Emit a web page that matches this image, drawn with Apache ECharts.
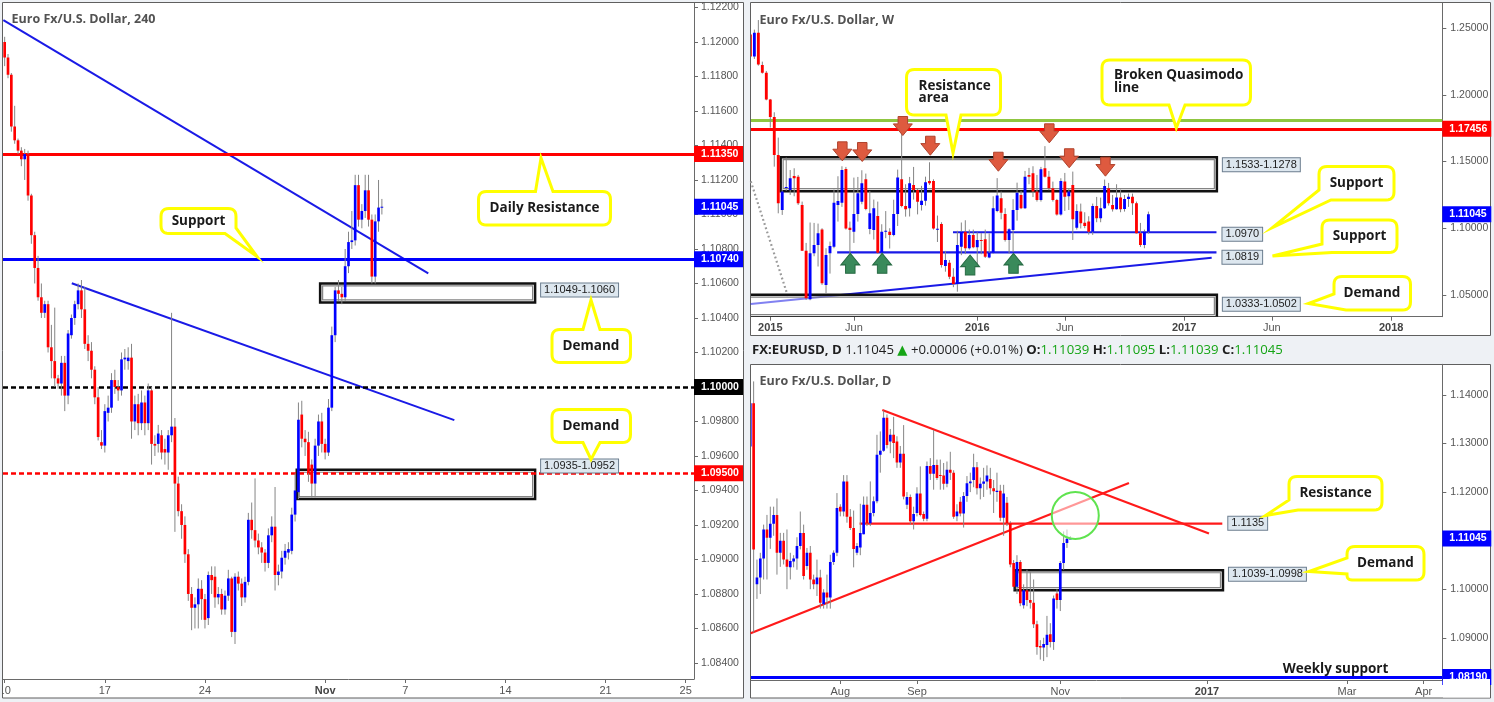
<!DOCTYPE html>
<html>
<head>
<meta charset="utf-8">
<script src="https://cdn.jsdelivr.net/npm/echarts@6/dist/echarts.min.js"></script>
<style>
  html, body { margin: 0; padding: 0; background: #eef1f5; }
  #chart { width: 1494px; height: 702px; }
</style>
</head>
<body>
<div id="chart"></div>
<script>
// ---------- 4-hour EUR/USD (bar 0 = 10 Oct 2016, 00:00) ----------
const h4BarTicks = [0, 30, 60, 96, 120, 150, 180, 204];
const h4BarTickText = ['10', '17', '24', 'Nov', '7', '14', '21', '25'];
const h4PriceTicks = [1.084, 1.086, 1.088, 1.090, 1.092, 1.094, 1.096, 1.098, 1.100, 1.102,
  1.104, 1.106, 1.108, 1.110, 1.112, 1.114, 1.116, 1.118, 1.120, 1.122];
// [open, close, low, high]
const h4Candles = [
  [1.1200,1.1191,1.1186,1.1203],[1.1191,1.1181,1.1179,1.1193],[1.1181,1.1151,1.1148,1.1182],[1.1151,1.1143,1.1141,1.1163],
  [1.1143,1.1137,1.1135,1.1144],[1.1137,1.1132,1.1128,1.1139],[1.1132,1.1135,1.1120,1.1138],[1.1135,1.1111,1.1108,1.1137],
  [1.1111,1.1088,1.1083,1.1112],[1.1088,1.1069,1.1060,1.1090],[1.1069,1.1052,1.1050,1.1076],[1.1052,1.1043,1.1040,1.1060],
  [1.1043,1.1048,1.1040,1.1050],[1.1048,1.1023,1.1020,1.1050],[1.1023,1.1015,1.1005,1.1036],[1.1015,1.1005,1.1000,1.1046],
  [1.1005,1.1002,1.0999,1.1007],[1.1002,1.1014,1.0995,1.1018],[1.1014,1.0995,1.0986,1.1018],[1.0995,1.1031,1.0990,1.1033],
  [1.1030,1.1040,1.1028,1.1042],[1.1040,1.1048,1.1036,1.1050],[1.1048,1.1056,1.1045,1.1060],[1.1056,1.1045,1.1040,1.1062],
  [1.1045,1.1025,1.1022,1.1058],[1.1025,1.1021,1.1015,1.1030],[1.1021,1.1010,1.1005,1.1026],[1.1010,1.0994,1.0990,1.1012],
  [1.0994,1.0971,1.0969,1.1000],[1.0968,1.0966,1.0964,1.0975],[1.0966,1.0986,1.0962,1.0990],[1.0985,1.0988,1.0980,1.0995],
  [1.0988,1.1004,1.0985,1.1008],[1.1004,1.1000,1.0996,1.1010],[1.1000,1.0998,1.0992,1.1004],[1.0998,1.1016,1.0995,1.1020],
  [1.1016,1.1017,1.1010,1.1022],[1.1015,1.1017,1.1010,1.1023],[1.1017,1.0980,1.0970,1.1025],[1.0980,1.0990,1.0975,1.0995],
  [1.0990,1.0979,1.0972,1.0996],[1.0979,1.0991,1.0975,1.0998],[1.0991,1.0979,1.0972,1.0995],[1.0979,1.0998,1.0975,1.1002],
  [1.0998,1.0967,1.0955,1.1000],[1.0967,1.0966,1.0960,1.0972],[1.0967,1.0973,1.0962,1.0978],[1.0972,1.0962,1.0958,1.0975],
  [1.0964,1.0962,1.0955,1.0970],[1.0962,1.0972,1.0952,1.0975],[1.0972,1.0977,1.0968,1.1043],[1.0977,1.0944,1.0916,1.0982],
  [1.0944,1.0928,1.0925,1.0948],[1.0928,1.0920,1.0912,1.0932],[1.0920,1.0903,1.0898,1.0925],[1.0903,1.0880,1.0876,1.0906],
  [1.0880,1.0872,1.0859,1.0884],[1.0872,1.0874,1.0860,1.0878],[1.0874,1.0883,1.0860,1.0889],[1.0883,1.0877,1.0865,1.0888],
  [1.0877,1.0865,1.0860,1.0880],[1.0866,1.0891,1.0862,1.0893],[1.0891,1.0888,1.0880,1.0896],[1.0890,1.0878,1.0872,1.0896],
  [1.0878,1.0880,1.0874,1.0884],[1.0880,1.0871,1.0868,1.0883],[1.0871,1.0879,1.0868,1.0882],[1.0879,1.0889,1.0876,1.0894],
  [1.0889,1.0858,1.0855,1.0890],[1.0858,1.0890,1.0851,1.0892],[1.0890,1.0886,1.0882,1.0893],[1.0886,1.0878,1.0873,1.0889],
  [1.0878,1.0887,1.0875,1.0890],[1.0887,1.0923,1.0885,1.0927],[1.0923,1.0917,1.0912,1.0933],[1.0917,1.0911,1.0907,1.0947],
  [1.0911,1.0907,1.0903,1.0915],[1.0907,1.0904,1.0898,1.0910],[1.0904,1.0898,1.0893,1.0906],[1.0898,1.0914,1.0895,1.0918],
  [1.0914,1.0919,1.0910,1.0925],[1.0919,1.0891,1.0882,1.0942],[1.0891,1.0893,1.0885,1.0897],[1.0893,1.0901,1.0889,1.0905],
  [1.0901,1.0905,1.0897,1.0909],[1.0904,1.0906,1.0900,1.0910],[1.0905,1.0926,1.0903,1.0930],[1.0926,1.0940,1.0922,1.0950],
  [1.0939,1.0981,1.0935,1.0991],[1.0984,1.0970,1.0965,1.0992],[1.0970,1.0968,1.0960,1.0975],[1.0968,1.0950,1.0945,1.0974],
  [1.0955,1.0944,1.0936,1.0958],[1.0944,1.0966,1.0936,1.0970],[1.0966,1.0980,1.0960,1.0984],[1.0980,1.0967,1.0962,1.0985],
  [1.0967,1.0962,1.0958,1.0970],[1.0962,1.0988,1.0960,1.0993],[1.0988,1.1030,1.0986,1.1035],[1.1030,1.1056,1.1026,1.1058],
  [1.1056,1.1054,1.1050,1.1062],[1.1054,1.1052,1.1048,1.1058],[1.1052,1.1070,1.1050,1.1080],[1.1070,1.1084,1.1066,1.1090],
  [1.1084,1.1085,1.1080,1.1102],[1.1085,1.1117,1.1082,1.1123],[1.1117,1.1097,1.1093,1.1123],[1.1097,1.1102,1.1092,1.1106],
  [1.1102,1.1114,1.1098,1.1123],[1.1114,1.1097,1.1093,1.1123],[1.1097,1.1064,1.1060,1.1100],[1.1064,1.1096,1.1060,1.1100],
  [1.1096,1.1104,1.1090,1.1120],[1.1104,1.11045,1.1100,1.1109]
];
const h4DailyResistance = 1.1135;
const h4Support = 1.1074;
const h4RoundNumber = 1.1000;
const h4HalfNumber = 1.0950;
// demand zones: [fromBar, toBar, first, second]
const h4Zones = [[94.5, 158.9, 1.1049, 1.1060], [87.5, 158.9, 1.0935, 1.0952]];
const h4ZoneLabelAt = [1.1060, 1.0958];
const h4TrendUpper = [[-0.4, 1.12127], [126.9, 1.10659]];
const h4TrendLower = [[20.1, 1.10601], [134.7, 1.09808]];

// ---------- Weekly EUR/USD (week 0 = 5 Jan 2015) ----------
const weekFirst = -5;
const weekTicks = [0, 21, 52, 74, 104, 126, 156];
const weekTickText = ['2015', 'Jun', '2016', 'Jun', '2017', 'Jun', '2018'];
const weekPriceTicks = [1.05, 1.10, 1.15, 1.20, 1.25];
const weekCandles = [
  [1.2453,1.2288,1.2247,1.2460],[1.2288,1.2467,1.2270,1.2490],[1.2467,1.2228,1.2220,1.2562],[1.2225,1.2167,1.2160,1.2250],
  [1.2167,1.1965,1.1960,1.2180],[1.1965,1.1835,1.1755,1.1970],[1.1835,1.1550,1.1462,1.1870],[1.1550,1.1187,1.1112,1.1680],
  [1.1137,1.1275,1.1100,1.1290],[1.1302,1.1310,1.1280,1.1530],[1.1287,1.1375,1.1250,1.1437],[1.1392,1.1375,1.1240,1.1450],
  [1.1387,1.1187,1.1175,1.1400],[1.1175,1.0832,1.0830,1.1200],[1.0832,1.0474,1.0462,1.0890],[1.0467,1.0812,1.0460,1.1043],
  [1.0812,1.0874,1.0790,1.1040],[1.0874,1.0962,1.0713,1.1035],[1.0990,1.0587,1.0575,1.1000],[1.0574,1.0800,1.0512,1.0850],
  [1.0812,1.0867,1.0660,1.0900],[1.0862,1.1192,1.0850,1.1290],[1.1175,1.1205,1.1050,1.1390],[1.1192,1.1437,1.1160,1.1465],
  [1.1445,1.0999,1.0990,1.1460],[1.1004,1.0987,1.0812,1.1050],[1.0974,1.1107,1.0890,1.1380],[1.1107,1.1262,1.1050,1.1385],
  [1.1199,1.1337,1.1180,1.1435],[1.1367,1.1144,1.1135,1.1410],[1.0994,1.1112,1.0955,1.1280],[1.0987,1.1150,1.0915,1.1215],
  [1.1092,1.0817,1.0808,1.1200],[1.0817,1.0974,1.0808,1.1030],[1.0979,1.0982,1.0925,1.1129],[1.0974,1.0949,1.0848,1.1000],
  [1.0949,1.1107,1.0940,1.1214],[1.1107,1.1380,1.1017,1.1440],[1.1367,1.1167,1.1157,1.1714],[1.1167,1.1142,1.1087,1.1330],
  [1.1150,1.1337,1.1088,1.1385],[1.1325,1.1287,1.1215,1.1460],[1.1287,1.1199,1.1104,1.1296],[1.1175,1.1207,1.1133,1.1318],
  [1.1207,1.1345,1.1170,1.1387],[1.1355,1.1337,1.1325,1.1495],[1.1355,1.0999,1.0990,1.1367],[1.0992,1.0996,1.0897,1.1095],
  [1.1032,1.0724,1.0705,1.1045],[1.0717,1.0762,1.0674,1.0830],[1.0742,1.0637,1.0618,1.0762],[1.0637,1.0582,1.0558,1.0700],
  [1.0582,1.0874,1.0524,1.0981],[1.0862,1.0974,1.0798,1.1043],[1.0974,1.0849,1.0806,1.1060],[1.0849,1.0949,1.0840,1.0990],
  [1.0949,1.0857,1.0850,1.0990],[1.0857,1.0912,1.0710,1.0970],[1.0912,1.0904,1.0805,1.0965],[1.0917,1.0787,1.0777,1.0990],
  [1.0780,1.0817,1.0775,1.0962],[1.0817,1.1150,1.0808,1.1240],[1.1130,1.1245,1.1120,1.1376],[1.1225,1.1117,1.1067,1.1275],
  [1.1107,1.0912,1.0900,1.1150],[1.0912,1.0992,1.0810,1.1000],[1.0987,1.1137,1.0822,1.1218],[1.1137,1.1267,1.1057,1.1342],
  [1.1250,1.1150,1.1143,1.1280],[1.1150,1.1387,1.1144,1.1430],[1.1400,1.1387,1.1330,1.1453],[1.1412,1.1275,1.1234,1.1465],
  [1.1275,1.1212,1.1200,1.1400],[1.1212,1.1442,1.1200,1.1460],[1.1450,1.1387,1.1380,1.1616],[1.1387,1.1300,1.1285,1.1430],
  [1.1300,1.1212,1.1200,1.1350],[1.1212,1.1104,1.1095,1.1220],[1.1104,1.1355,1.1095,1.1375],[1.1350,1.1237,1.1130,1.1415],
  [1.1240,1.1275,1.1137,1.1300],[1.1325,1.1067,1.0912,1.1425],[1.1004,1.1130,1.0990,1.1180],[1.1125,1.1037,1.0998,1.1185],
  [1.1042,1.1017,1.1000,1.1120],[1.1050,1.0974,1.0952,1.1090],[1.0974,1.1167,1.0950,1.1185],[1.1167,1.1075,1.1045,1.1235],
  [1.1075,1.1150,1.1045,1.1230],[1.1150,1.1317,1.1145,1.1365],[1.1300,1.1187,1.1170,1.1340],[1.1175,1.1142,1.1125,1.1250],
  [1.1142,1.1230,1.1140,1.1330],[1.1230,1.1142,1.1120,1.1290],[1.1144,1.1220,1.1125,1.1250],[1.1220,1.1237,1.1160,1.1260],
  [1.1237,1.1187,1.1100,1.1260],[1.1187,1.0962,1.0960,1.1200],[1.0962,1.0874,1.0860,1.1040],[1.0874,1.0974,1.0850,1.0990],
  [1.0974,1.11045,1.0960,1.1125]
];
const weekQuasimodo = 1.1812;
const weekResistance = 1.17456;
const weekZones = [[2.6, 112.2, 1.1533, 1.1278], [-6, 112.2, 1.0333, 1.0502]];
const weekZoneLabelAt = [1.1525, 1.0479];
const weekSupports = [[45.9, 112.1, 1.0970], [16.8, 112.1, 1.0819]];
const weekSupportLabelAt = [1.1004, 1.0832];
const weekTrend = [[-4.9, 1.04317], [110.9, 1.07791]];
const weekDotted = [[-4.9, 1.1352], [4.45, 1.0487]];
const weekSellArrows = [[18.1, 1.1577], [23.1, 1.1572], [33.3, 1.1767], [40.2, 1.1619],
  [57.3, 1.1499], [70.1, 1.1712], [75.1, 1.1525], [84.2, 1.1462]];
const weekBuyArrows = [[20.1, 1.0737], [28.1, 1.0737], [50.2, 1.0724], [61.1, 1.0737]];

// ---------- Daily EUR/USD (day 0 = 1 Aug 2016) ----------
const dayFirst = -27;
const dayTicks = [0, 23, 66, 110, 152, 175];
const dayTickText = ['Aug', 'Sep', 'Nov', '2017', 'Mar', 'Apr'];
const dayPriceTicks = [1.09, 1.10, 1.11, 1.12, 1.13, 1.14];
const dayCandles = [
  [1.1294,1.1383,1.1280,1.1431],[1.1383,1.1082,1.0911,1.1428],[1.1010,1.1024,1.0980,1.1061],[1.1024,1.1063,1.0990,1.1075],
  [1.1063,1.1123,1.1020,1.1133],[1.1123,1.1106,1.1020,1.1153],[1.1106,1.1135,1.1083,1.1170],[1.1135,1.1153,1.1110,1.1170],
  [1.1153,1.1075,1.1030,1.1187],[1.1075,1.1100,1.1046,1.1116],[1.1100,1.1061,1.1051,1.1116],[1.1061,1.1046,1.1000,1.1123],
  [1.1045,1.1058,1.1020,1.1075],[1.1057,1.1063,1.1045,1.1070],[1.1063,1.1089,1.1040,1.1107],[1.1089,1.1116,1.1082,1.1160],
  [1.1116,1.1027,1.1020,1.1133],[1.1048,1.1075,1.1040,1.1085],[1.1075,1.1020,1.1000,1.1089],[1.1020,1.1010,1.1000,1.1030],
  [1.1010,1.1024,1.0986,1.1061],[1.1024,1.0972,1.0960,1.1040],[1.0969,1.0993,1.0960,1.1000],[1.0993,1.0983,1.0960,1.1030],
  [1.0983,1.1056,1.0960,1.1071],[1.1056,1.1075,1.1050,1.1080],[1.1075,1.1167,1.1068,1.1198],
  [1.1170,1.1160,1.1150,1.1175],[1.1160,1.1222,1.1150,1.1235],[1.1222,1.1149,1.1137,1.1235],[1.1149,1.1126,1.1122,1.1165],
  [1.1126,1.1083,1.1045,1.1162],[1.1075,1.1089,1.1070,1.1095],[1.1086,1.1116,1.1070,1.1176],[1.1113,1.1174,1.1113,1.1191],
  [1.1174,1.1136,1.1130,1.1191],[1.1136,1.1157,1.1130,1.1222],[1.1157,1.1181,1.1150,1.1191],[1.1181,1.1277,1.1177,1.1318],
  [1.1277,1.1285,1.1240,1.1325],[1.1285,1.1353,1.1283,1.1368],[1.1353,1.1297,1.1290,1.1360],[1.1304,1.1318,1.1280,1.1330],
  [1.1318,1.1301,1.1270,1.1355],[1.1304,1.1261,1.1250,1.1315],[1.1261,1.1279,1.1250,1.1295],[1.1279,1.1191,1.1185,1.1338],
  [1.1174,1.1190,1.1165,1.1200],[1.1190,1.1140,1.1133,1.1195],[1.1140,1.1155,1.1123,1.1170],[1.1157,1.1197,1.1150,1.1210],
  [1.1197,1.1153,1.1150,1.1253],[1.1155,1.1145,1.1140,1.1160],[1.1145,1.1254,1.1140,1.1263],[1.1254,1.1238,1.1225,1.1270],
  [1.1238,1.1256,1.1205,1.1328],[1.1256,1.1229,1.1225,1.1267],[1.1235,1.1233,1.1205,1.1267],[1.1234,1.1217,1.1205,1.1260],
  [1.1217,1.1246,1.1210,1.1263],[1.1246,1.1240,1.1225,1.1283],[1.1240,1.1149,1.1145,1.1245],[1.1150,1.1160,1.1140,1.1175],
  [1.1180,1.1156,1.1150,1.1190],[1.1156,1.1192,1.1127,1.1200],[1.1192,1.1218,1.1180,1.1233],[1.1218,1.1222,1.1200,1.1240],
  [1.1225,1.1251,1.1210,1.1279],[1.1251,1.1208,1.1195,1.1262],[1.1208,1.1217,1.1185,1.1230],[1.1217,1.1222,1.1190,1.1250],
  [1.1222,1.1234,1.1205,1.1255],[1.1227,1.1208,1.1195,1.1250],[1.1208,1.1202,1.1157,1.1225],[1.1200,1.1203,1.1180,1.1240],
  [1.1203,1.1147,1.1140,1.1215],[1.1147,1.1197,1.1110,1.1215],[1.1178,1.1136,1.1130,1.1190],[1.1136,1.1051,1.1045,1.1140],
  [1.1054,1.1005,1.0998,1.1060],[1.1005,1.1056,1.0990,1.1070],[1.1056,1.0971,1.0965,1.1060],[1.0967,1.0998,1.0960,1.1010],
  [1.0998,1.0978,1.0965,1.1040],[1.0978,1.0972,1.0960,1.1037],[1.0972,1.0928,1.0920,1.1020],[1.0928,1.0881,1.0865,1.0935],
  [1.0883,1.0880,1.0855,1.0895],[1.0880,1.0887,1.0852,1.0900],[1.0885,1.0906,1.0860,1.0945],[1.0907,1.0891,1.0880,1.0930],
  [1.0891,1.0981,1.0875,1.0987],[1.0991,1.0978,1.0960,1.1000],[1.0978,1.1054,1.0955,1.1058],[1.1054,1.1095,1.1040,1.1119],
  [1.1095,1.11039,1.1085,1.1123],[1.11039,1.11045,1.11039,1.11095]
];
const dayResistance = [[5.8, 114.6, 1.1135]];
const dayResistanceLabelAt = [1.1149];
const dayTrendDown = [[12.6, 1.13692], [110.6, 1.11146]];
const dayTrendUp = [[-26.9, 1.09092], [86.6, 1.12187]];
const dayZones = [[52.3, 114.8, 1.1039, 1.0998]];
const dayZoneLabelAt = [1.1044];
const dayWeeklySupport = 1.0819;
const dayFocus = [[70.5, 1.1152]];

// ---------- drawing helpers ----------
const AXIS_FONT = '"Liberation Sans", Arial, sans-serif';
const UI_FONT = '"Open Sans", "DejaVu Sans", sans-serif';
const UP = '#0000ff', DOWN = '#ff0000';

function toRows(candles, first) { return candles.map((c, k) => [first + k, c[0], c[1], c[2], c[3]]); }

function candleRenderer(ratio) {
  return function (params, api) {
    const x = api.value(0), o = api.value(1), c = api.value(2), l = api.value(3), h = api.value(4);
    const pH = api.coord([x, h]), pL = api.coord([x, l]), pO = api.coord([x, o]), pC = api.coord([x, c]);
    const bw = api.size([1, 0])[0] * ratio;
    const top = Math.min(pO[1], pC[1]);
    const ht = Math.max(1, Math.abs(pO[1] - pC[1]));
    return { type: 'group', children: [
      { type: 'line', shape: { x1: pH[0], y1: pH[1], x2: pL[0], y2: pL[1] }, style: { stroke: '#858585', lineWidth: 1 } },
      { type: 'rect', shape: { x: pO[0] - bw / 2, y: top, width: bw, height: ht }, style: { fill: c >= o ? UP : DOWN } }
    ] };
  };
}

function zoneRenderer(params, api) {
  const x1 = api.value(0), x2 = api.value(1), a = api.value(2), b = api.value(3);
  const p1 = api.coord([x1, Math.max(a, b)]), p2 = api.coord([x2, Math.min(a, b)]);
  const w = p2[0] - p1[0], h = p2[1] - p1[1];
  return { type: 'group', children: [
    { type: 'rect', shape: { x: p1[0], y: p1[1], width: w, height: h }, style: { fill: 'rgba(255,255,255,0.45)', stroke: '#111', lineWidth: 2.5 } },
    { type: 'rect', shape: { x: p1[0] + 2.5, y: p1[1] + 2.5, width: w - 5, height: h - 5 }, style: { fill: 'none', stroke: 'rgba(110,110,110,0.85)', lineWidth: 1.2 } }
  ] };
}

function tagRenderer(texts) {
  return function (params, api) {
    const p = api.coord([api.value(0), api.value(1)]);
    return { type: 'text', x: p[0] + 6, y: p[1], style: {
      text: texts[params.dataIndex], fill: '#1c1c1c', fontFamily: AXIS_FONT, fontSize: 11,
      align: 'left', verticalAlign: 'top', backgroundColor: '#dde7ef', borderColor: '#6c7e8f', borderWidth: 1, padding: [1, 3, 1, 3]
    } };
  };
}

function priceTag(text, bg) {
  return { show: true, position: 'end', distance: 0, formatter: text, color: '#fff', backgroundColor: bg,
    fontFamily: AXIS_FONT, fontWeight: 'bold', fontSize: 10.5, lineHeight: 12, padding: [2, 4, 2, 7], width: 38 };
}
function level(value, color, width, type) {
  return { yAxis: value, lineStyle: { color, width, type }, label: priceTag(value.toFixed(5), color) };
}
function tagOnly(value, color) {
  return { yAxis: value, lineStyle: { color: 'rgba(0,0,0,0)', width: 1, type: 'solid' }, label: priceTag(value.toFixed(5), color) };
}
function markLines(data) {
  return { symbol: ['none', 'none'], silent: true, animation: false, precision: 6, data };
}

function xAxis(gridIndex, min, max, ticks, texts, bold) {
  return {
    type: 'value', gridIndex, min, max, splitLine: { show: false },
    axisLine: { show: true, onZero: false, lineStyle: { color: '#6a6a6a', width: 1 } },
    axisTick: { show: true, customValues: ticks, length: 4, lineStyle: { color: '#6a6a6a' } },
    axisLabel: {
      show: true, customValues: ticks, margin: 6, color: '#555', fontSize: 11, fontFamily: AXIS_FONT,
      formatter: v => {
        const k = ticks.findIndex(t => Math.abs(t - v) < 1e-6);
        const s = k >= 0 ? texts[k] : '';
        return bold.includes(s) ? '{b|' + s + '}' : s;
      },
      rich: { b: { fontWeight: 'bold', color: '#444', fontSize: 11, fontFamily: AXIS_FONT } }
    }
  };
}
function yAxis(gridIndex, min, max, ticks, margin) {
  return {
    type: 'value', gridIndex, min, max, position: 'right', splitLine: { show: false },
    axisLine: { show: true, onZero: false, lineStyle: { color: '#6a6a6a', width: 1 } },
    axisTick: { show: true, customValues: ticks, length: 4, lineStyle: { color: '#6a6a6a' } },
    axisLabel: { show: true, customValues: ticks, margin, color: '#555', fontSize: 10.5, fontFamily: AXIS_FONT,
      formatter: v => v.toFixed(5) }
  };
}

function segment(data, xi, color, width, type, z) {
  return { type: 'line', xAxisIndex: xi, yAxisIndex: xi, data, symbol: 'none', silent: true, animation: false,
    lineStyle: { color, width, type: type || 'solid' }, z: z || 2 };
}

// ---------- callout boxes ----------
function roundPoly(pts) {
  const out = [], n = pts.length;
  for (let i = 0; i < n; i++) {
    const [x, y, r] = pts[i];
    if (!r) { out.push([x, y]); continue; }
    const [px, py] = pts[(i + n - 1) % n], [nx, ny] = pts[(i + 1) % n];
    const d1 = Math.hypot(px - x, py - y), d2 = Math.hypot(nx - x, ny - y);
    const ax = x + (px - x) / d1 * r, ay = y + (py - y) / d1 * r;
    const bx = x + (nx - x) / d2 * r, by = y + (ny - y) / d2 * r;
    for (let k = 0; k <= 6; k++) {
      const t = k / 6, u = 1 - t;
      out.push([u * u * ax + 2 * u * t * x + t * t * bx, u * u * ay + 2 * u * t * y + t * t * by]);
    }
  }
  return out;
}
const R = 8;
const callouts = [
  { pts: [[161,208.5,R],[236,208.5,R],[236,228,0],[257,256.5,0],[225,233.5,0],[161,233.5,R]], text: 'Support', x: 198.5, y: 221, align: 'center' },
  { pts: [[478.5,191.5,R],[535.5,191.5,0],[541,158,0],[553,191.5,0],[610.5,191.5,R],[610.5,225,R],[478.5,225,R]], text: 'Daily Resistance', x: 544.5, y: 208.5, align: 'center' },
  { pts: [[552,329.5,R],[583,329.5,0],[591,300,0],[600,329.5,0],[630.5,329.5,R],[630.5,362.5,R],[552,362.5,R]], text: 'Demand', x: 591, y: 346, align: 'center' },
  { pts: [[552,409.5,R],[630.5,409.5,R],[630.5,442.5,R],[600,442.5,0],[591,459.5,0],[583,442.5,0],[552,442.5,R]], text: 'Demand', x: 591, y: 426, align: 'center' },
  { pts: [[906.5,69.5,R],[1000.5,69.5,R],[1000.5,115,R],[961,115,0],[953,153,0],[946,115,0],[906.5,115,R]], text: 'Resistance\narea', x: 918.5, y: 92, align: 'left' },
  { pts: [[1102,60,R],[1250.5,60,R],[1250.5,105,R],[1185,105,0],[1176.3,128,0],[1169,105,0],[1102,105,R]], text: 'Broken Quasimodo\nline', x: 1114, y: 81.5, align: 'left' },
  { pts: [[1319,166.5,R],[1394,166.5,R],[1394,200,R],[1331,200,0],[1272.5,227.5,0],[1319,190,0]], text: 'Support', x: 1356.5, y: 183, align: 'center' },
  { pts: [[1322,220,R],[1397,220,R],[1397,252.5,R],[1332,252.5,0],[1272.5,256,0],[1322,244,0]], text: 'Support', x: 1359.5, y: 236, align: 'center' },
  { pts: [[1334,276.5,R],[1410.5,276.5,R],[1410.5,310,R],[1346,310,0],[1308.5,303.5,0],[1334,294,0]], text: 'Demand', x: 1372, y: 293, align: 'center' },
  { pts: [[1289,476.5,R],[1382,476.5,R],[1382,510,R],[1298,510,0],[1265.5,515.5,0],[1289,500,0]], text: 'Resistance', x: 1335.5, y: 493, align: 'center' },
  { pts: [[1347,546.5,R],[1424,546.5,R],[1424,580,R],[1347,580,5],[1347,574,0],[1309,571.5,0],[1347,558,0]], text: 'Demand', x: 1385.5, y: 563, align: 'center' }
];

const graphics = [
  { type: 'rect', z: -10, silent: true, shape: { x: 2.5, y: 2.5, width: 741, height: 695.5 }, style: { fill: '#fff', stroke: '#5f5f5f', lineWidth: 1 } },
  { type: 'rect', z: -10, silent: true, shape: { x: 750.5, y: 2.5, width: 740, height: 333 }, style: { fill: '#fff', stroke: '#5f5f5f', lineWidth: 1 } },
  { type: 'rect', z: -10, silent: true, shape: { x: 750.5, y: 364.5, width: 740, height: 333.5 }, style: { fill: '#fff', stroke: '#5f5f5f', lineWidth: 1 } },
  // the price scale of the daily pane ends at the time axis, so the tag below it is cut off there
  { type: 'rect', zlevel: 1, z: 60, silent: true, shape: { x: 1443, y: 679, width: 47, height: 18.5 }, style: { fill: '#fff' } },
  // the time labels are cut off at the left edge of the 4H pane
  { type: 'rect', zlevel: 1, z: 60, silent: true, shape: { x: 0, y: 681, width: 2, height: 18 }, style: { fill: '#eef1f5' } }
];
[['Euro Fx/U.S. Dollar, 240', 11.5, 19], ['Euro Fx/U.S. Dollar, W', 759.5, 20], ['Euro Fx/U.S. Dollar, D', 759.5, 381.5]].forEach(t => {
  graphics.push({ type: 'text', z: 50, silent: true, x: t[1], y: t[2], style: {
    text: t[0], fill: '#525252', fontFamily: UI_FONT, fontWeight: 'bold', fontSize: 12.5, align: 'left', verticalAlign: 'middle' } });
});
callouts.forEach(c => {
  graphics.push({ type: 'polygon', z: 50, silent: true, shape: { points: roundPoly(c.pts) },
    style: { fill: '#fff', stroke: '#ffff00', lineWidth: 3 } });
  graphics.push({ type: 'text', z: 51, silent: true, x: c.x, y: c.y, style: {
    text: c.text, fill: '#1a1a1a', fontFamily: UI_FONT, fontWeight: 'bold', fontSize: 13.5, lineHeight: 12.5,
    align: c.align, verticalAlign: 'middle' } });
});
graphics.push({ type: 'text', z: 51, silent: true, x: 1335.5, y: 669, style: {
  text: 'Weekly support', fill: '#1a1a1a', fontFamily: UI_FONT, fontWeight: 'bold', fontSize: 13.5, align: 'center', verticalAlign: 'middle' } });

// symbol line above the daily pane: last bar and change from the previous close
const lastBar = dayCandles[dayCandles.length - 1];
const prevClose = dayCandles[dayCandles.length - 2][1];
const chg = lastBar[1] - prevClose;
const chgPct = chg / prevClose * 100;
const HS = 13.2;
graphics.push({ type: 'text', z: 51, silent: true, x: 752, y: 350, style: {
  text: '{b|FX:EURUSD, D} {n|' + lastBar[1].toFixed(5) + '} {g|▲} {n|+' + chg.toFixed(5) + ' (+' + chgPct.toFixed(2) + '%)} ' +
        '{b|O:}{g|' + lastBar[0].toFixed(5) + '} {b|H:}{g|' + lastBar[3].toFixed(5) + '} {b|L:}{g|' + lastBar[2].toFixed(5) + '} {b|C:}{g|' + lastBar[1].toFixed(5) + '}',
  verticalAlign: 'middle', align: 'left', fontFamily: UI_FONT, fontSize: HS,
  rich: {
    b: { fontFamily: UI_FONT, fontSize: HS, fontWeight: 'bold', fill: '#1e1e1e', color: '#1e1e1e' },
    n: { fontFamily: UI_FONT, fontSize: HS, fill: '#1e1e1e', color: '#1e1e1e' },
    g: { fontFamily: UI_FONT, fontSize: HS, fill: '#16a516', color: '#16a516' }
  } } });

const lastPrice = h4Candles[h4Candles.length - 1][1];

const ARROW_DOWN = 'path://M5,0L15,0L15,7L20,7L10,18L0,7L5,7Z';
const ARROW_UP = 'path://M10,0L20,11L15,11L15,19L5,19L5,11L0,11Z';

const option = {
  animation: false,
  backgroundColor: '#eef1f5',
  textStyle: { fontFamily: AXIS_FONT },
  graphic: { elements: graphics },
  grid: [
    { left: 3, top: 3, width: 691, height: 676, outerBoundsMode: 'none', containLabel: false },
    { left: 751, top: 3, width: 691.3, height: 313.7, outerBoundsMode: 'none', containLabel: false },
    { left: 751, top: 364.3, width: 691.3, height: 315.7, outerBoundsMode: 'none', containLabel: false }
  ],
  xAxis: [
    xAxis(0, -0.5, 206.5, h4BarTicks, h4BarTickText, ['Nov']),
    xAxis(1, -4.849, 168.84, weekTicks, weekTickText, ['2015', '2016', '2017', '2018']),
    xAxis(2, -26.79, 180.6, dayTicks, dayTickText, ['2017'])
  ],
  yAxis: [
    yAxis(0, 1.08307, 1.12226, h4PriceTicks, 7),
    yAxis(1, 1.03364, 1.26898, weekPriceTicks, 8),
    yAxis(2, 1.081298, 1.146323, dayPriceTicks, 8)
  ],
  series: [
    // ---- 4H pane ----
    Object.assign(segment(h4TrendUpper, 0, '#1a1ae6', 2), {
      markLine: markLines([
        level(h4DailyResistance, '#ff0000', 3, 'solid'),
        level(h4Support, '#0000ff', 3, 'solid'),
        level(h4RoundNumber, '#000000', 2.5, [5, 3]),
        level(h4HalfNumber, '#ff0000', 2.5, [5, 3]),
        tagOnly(lastPrice, '#0000ff')
      ])
    }),
    segment(h4TrendLower, 0, '#1a1ae6', 2),
    { type: 'custom', xAxisIndex: 0, yAxisIndex: 0, data: h4Zones, renderItem: zoneRenderer, clip: true, silent: true, z: 3, animation: false },
    { type: 'custom', xAxisIndex: 0, yAxisIndex: 0, data: toRows(h4Candles, 0), encode: { x: 0, y: [1, 2, 3, 4] },
      renderItem: candleRenderer(0.8), clip: true, silent: true, z: 5, animation: false },
    { type: 'custom', xAxisIndex: 0, yAxisIndex: 0, data: h4Zones.map((zn, k) => [zn[1], h4ZoneLabelAt[k]]),
      renderItem: tagRenderer(h4Zones.map(zn => zn[2].toFixed(4) + '-' + zn[3].toFixed(4))), silent: true, z: 7, animation: false },

    // ---- weekly pane ----
    Object.assign(segment([], 1, '#000', 1), {
      markLine: markLines([
        { yAxis: weekQuasimodo, lineStyle: { color: '#8fc640', width: 3, type: 'solid' }, label: { show: false } },
        level(weekResistance, '#ff0000', 3, 'solid'),
        tagOnly(weekCandles[weekCandles.length - 1][1], '#0000ff')
      ])
    }),
    segment(weekTrend, 1, '#1a1ae6', 2),
    segment(weekDotted, 1, '#9a9a9a', 2.2, [1.8, 2.6]),
    ...weekSupports.map(s => segment([[s[0], s[2]], [s[1], s[2]]], 1, '#1a1ae6', 2.2)),
    { type: 'custom', xAxisIndex: 1, yAxisIndex: 1, data: weekZones, renderItem: zoneRenderer, clip: true, silent: true, z: 3, animation: false },
    { type: 'custom', xAxisIndex: 1, yAxisIndex: 1, data: toRows(weekCandles, weekFirst), encode: { x: 0, y: [1, 2, 3, 4] },
      renderItem: candleRenderer(0.72), clip: true, silent: true, z: 5, animation: false },
    { type: 'scatter', xAxisIndex: 1, yAxisIndex: 1, data: weekSellArrows, symbol: ARROW_DOWN, symbolSize: [19, 19], silent: true, z: 6, animation: false,
      itemStyle: { color: '#de5a3f', borderColor: '#b0432d', borderWidth: 1, opacity: 1 } },
    { type: 'scatter', xAxisIndex: 1, yAxisIndex: 1, data: weekBuyArrows, symbol: ARROW_UP, symbolSize: [19, 20], silent: true, z: 6, animation: false,
      itemStyle: { color: '#3a8a5b', borderColor: '#276a43', borderWidth: 1, opacity: 1 } },
    { type: 'custom', xAxisIndex: 1, yAxisIndex: 1,
      data: weekZones.map((zn, k) => [zn[1], weekZoneLabelAt[k]]).concat(weekSupports.map((s, k) => [s[1], weekSupportLabelAt[k]])),
      renderItem: tagRenderer(weekZones.map(zn => zn[2].toFixed(4) + '-' + zn[3].toFixed(4)).concat(weekSupports.map(s => s[2].toFixed(4)))),
      silent: true, z: 7, animation: false },

    // ---- daily pane ----
    Object.assign(segment(dayTrendDown, 2, '#ff1a1a', 2.2), {
      markLine: markLines([
        level(dayWeeklySupport, '#0000ff', 3, 'solid'),
        tagOnly(lastBar[1], '#0000ff')
      ])
    }),
    segment(dayTrendUp, 2, '#ff1a1a', 2.2),
    ...dayResistance.map(s => segment([[s[0], s[2]], [s[1], s[2]]], 2, '#ff1a1a', 2.2)),
    { type: 'custom', xAxisIndex: 2, yAxisIndex: 2, data: dayZones, renderItem: zoneRenderer, clip: true, silent: true, z: 3, animation: false },
    { type: 'custom', xAxisIndex: 2, yAxisIndex: 2, data: toRows(dayCandles, dayFirst), encode: { x: 0, y: [1, 2, 3, 4] },
      renderItem: candleRenderer(0.8), clip: true, silent: true, z: 5, animation: false },
    { type: 'scatter', xAxisIndex: 2, yAxisIndex: 2, data: dayFocus, symbol: 'circle', symbolSize: 47, silent: true, z: 6, animation: false,
      itemStyle: { color: 'rgba(255,255,255,0.55)', borderColor: '#5fe34f', borderWidth: 2, opacity: 1 } },
    { type: 'custom', xAxisIndex: 2, yAxisIndex: 2,
      data: dayResistance.map((s, k) => [s[1], dayResistanceLabelAt[k]]).concat(dayZones.map((zn, k) => [zn[1], dayZoneLabelAt[k]])),
      renderItem: tagRenderer(dayResistance.map(s => s[2].toFixed(4)).concat(dayZones.map(zn => zn[2].toFixed(4) + '-' + zn[3].toFixed(4)))),
      silent: true, z: 7, animation: false }
  ]
};

const chart = echarts.init(document.getElementById('chart'), null, { renderer: 'canvas' });
chart.setOption(option);
</script>
</body>
</html>
